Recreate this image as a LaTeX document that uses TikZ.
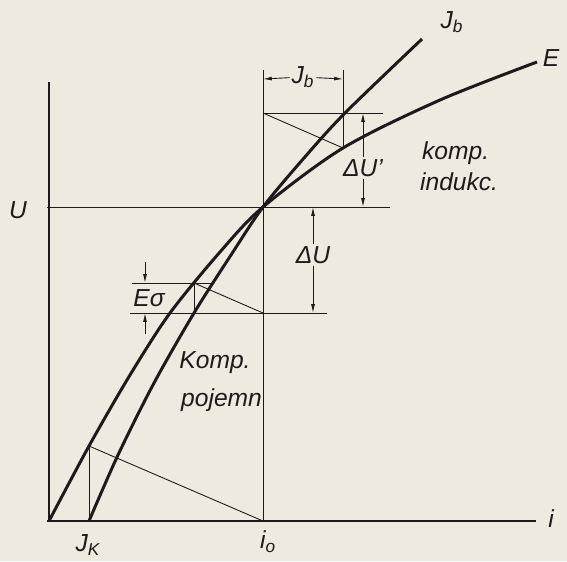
\documentclass[tikz,border=0pt]{standalone}
\usepackage{fontspec}
\setmainfont{Liberation Sans}
\usetikzlibrary{arrows.meta, calc}
\definecolor{paper}{RGB}{238,234,224}
\definecolor{ink}{RGB}{28,26,26}

\begin{document}
\begin{tikzpicture}[x=0.02cm, y=-0.02cm,
  curve/.style={ink, line width=1.7pt},
  aux/.style={ink, line width=0.5pt},
  axis/.style={ink, line width=0.8pt},
  dimarrow/.style={ink, line width=0.5pt, -{Latex[length=5pt,width=2.2pt]}},
  lbl/.style={ink, inner sep=1pt, font=\fontsize{14}{16}\selectfont\itshape}]

  % Paper
  \fill[paper] (0,0) rectangle (567,561);
  \useasboundingbox (0,0) rectangle (567,561);

  % Points of the construction
  \coordinate (O) at (49,521);
  \coordinate (Ytop) at (49,82);
  \coordinate (Xend) at (536,521);
  \coordinate (Xthick) at (502,521);
  \coordinate (A) at (263,207);
  \coordinate (Uleft) at (47,207);
  \coordinate (Uright) at (390,207);
  \coordinate (io) at (263,521);
  \coordinate (ioTop) at (263,70);
  \coordinate (Jk) at (89,521);
  \coordinate (Jkpt) at (89,446);
  \coordinate (Bb) at (343,148);
  \coordinate (BbTop) at (343,70);
  \coordinate (Hl) at (263,113);
  \coordinate (Hr) at (383,113);
  \coordinate (Cs) at (194,283);
  \coordinate (Cs2) at (194,313);
  \coordinate (Hmidl) at (132,283);
  \coordinate (Hmidr) at (213,283);
  \coordinate (Hlowl) at (130,313);
  \coordinate (Hlowr) at (327,313);
  \coordinate (io313) at (263,313);

  % Axes
  \draw[axis] (O) -- (Ytop);
  \draw[axis] ($(O)+(-2,0)$) -- (Xend);
  \draw[ink, line width=1.6pt] (Xthick) -- (Xend);

  % Working point U, i_o
  \draw[aux] (Uleft) -- (Uright);
  \draw[aux] (ioTop) -- (io);

  % Curve E
  \draw[curve] plot[smooth] coordinates {(49,521) (89,446) (130,375) (170,313)
    (220,252) (263,207) (343,148) (440,100) (537,62)};
  % Curve J_b
  \draw[curve] plot[smooth] coordinates {(89,521) (118,455) (154,383) (194,313)
    (231,255) (263,207) (304,158) (345,113) (422,39)};

  % Inductive compensation
  \draw[aux] (Hl) -- (Hr);
  \draw[aux] (BbTop) -- (Bb);
  \draw[aux] (Hl) -- (Bb);

  % Capacitive compensation
  \draw[aux] (Hmidl) -- (Hmidr);
  \draw[aux] (Hlowl) -- (Hlowr);
  \draw[aux] (Cs) -- (Cs2);
  \draw[aux] (Cs) -- (io313);

  % Short circuit
  \draw[aux] (Jk) -- (Jkpt);
  \draw[aux] (Jkpt) -- (io);

  % Dimensions
  \coordinate (JbL) at (263,79);
  \coordinate (JbR) at (343,79);
  \node[lbl] (Jbdim) at (303,77) {J\textsubscript{b}};
  \draw[dimarrow] (Jbdim) -- (JbL);
  \draw[dimarrow] (Jbdim) -- (JbR);

  \coordinate (dUpT) at (363,113);
  \coordinate (dUpB) at (363,207);
  \node[lbl] (dUp) at (363,168) {ΔU'};
  \draw[dimarrow] (dUp) -- (dUpT);
  \draw[dimarrow] (dUp) -- (dUpB);

  \coordinate (dUT) at (313,207);
  \coordinate (dUB) at (313,313);
  \node[lbl] (dU) at (313,255) {ΔU};
  \draw[dimarrow] (dU) -- (dUT);
  \draw[dimarrow] (dU) -- (dUB);

  \coordinate (EsT) at (145,262);
  \coordinate (EsTe) at (145,283);
  \coordinate (EsB) at (145,334);
  \coordinate (EsBe) at (145,313);
  \draw[dimarrow] (EsT) -- (EsTe);
  \draw[dimarrow] (EsB) -- (EsBe);
  \node[lbl] (Esig) at (149,298) {Eσ};

  % Labels
  \node[lbl] (Ulab) at (18,210) {U};
  \node[lbl] (ilab) at (551,519) {i};
  \node[lbl] (Jklab) at (88,545) {J\textsubscript{K}};
  \node[lbl] (iolab) at (268,542) {i\textsubscript{o}};
  \node[lbl] (Elab) at (551,58) {E};
  \node[lbl] (Jbtop) at (452,22) {J\textsubscript{b}};
  \node[lbl, anchor=west] (komp) at (420,153) {komp.};
  \node[lbl, anchor=west] (indukc) at (418,182) {indukc.};
  \node[lbl] (Komp) at (215,363) {Komp.};
  \node[lbl, anchor=east] (pojemn) at (264,400) {pojemn};
\end{tikzpicture}
\end{document}
